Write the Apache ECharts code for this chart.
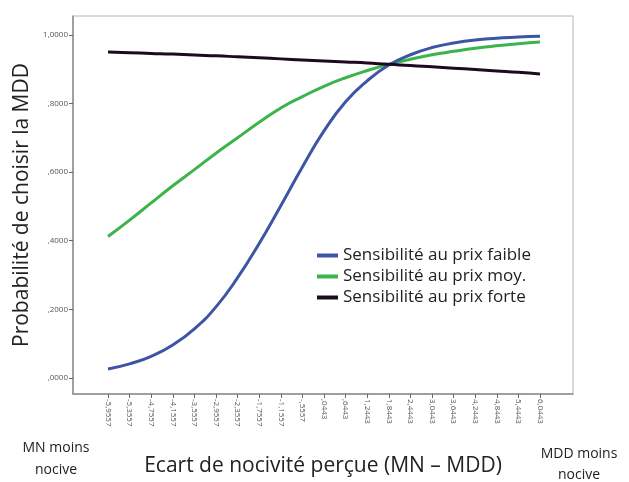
<!DOCTYPE html>
<html>
<head>
<meta charset="utf-8">
<script src="https://cdn.jsdelivr.net/npm/echarts@6/dist/echarts.min.js"></script>
<style>
  html, body { margin: 0; padding: 0; background: #fff; }
  #chart { width: 629px; height: 482px; }
</style>
</head>
<body>
<div id="chart"></div>
<script>
// écart de nocivité perçue (MN - MDD)
const ecartValues = [-5.9557, -5.3557, -4.7557, -4.1557, -3.5557, -2.9557, -2.3557, -1.7557, -1.1557, -0.5557,
  0.0443, 0.6443, 1.2443, 1.8443, 2.4443, 3.0443, 3.6443, 4.2443, 4.8443, 5.4443, 6.0443]

// probabilités
const prixFaible = [0.026, 0.041, 0.063, 0.096, 0.143, 0.207, 0.292, 0.392, 0.502, 0.615, 0.720,
  0.805, 0.866, 0.912, 0.942, 0.963, 0.976, 0.985, 0.990, 0.994, 0.996]
const prixMoyen = [0.412, 0.460, 0.510, 0.560, 0.607, 0.655, 0.700, 0.745, 0.787, 0.820, 0.850,
  0.875, 0.896, 0.914, 0.929, 0.942, 0.952, 0.961, 0.968, 0.974, 0.979]
const prixForte = [0.950, 0.948, 0.946, 0.944, 0.941, 0.939, 0.936, 0.933, 0.930, 0.927, 0.924,
  0.921, 0.918, 0.914, 0.911, 0.907, 0.903, 0.899, 0.895, 0.891, 0.886]

const yTicks = [0, 0.2, 0.4, 0.6, 0.8, 1.0]
const seriesNames = ['Sensibilité au prix faible', 'Sensibilité au prix moy.', 'Sensibilité au prix forte']

// format SPSS : virgule décimale, sans zéro initial
const spssFormat = (v, digits) => {
  let s = Math.abs(v).toFixed(digits).replace('.', ',')
  if (s.startsWith('0,')) s = s.slice(1)
  return (v < 0 ? '-' : '') + s
}

const toPairs = (vals) => vals.map((v, i) => [ecartValues[i], v])

const chart = echarts.init(document.getElementById('chart'))

chart.setOption({
  backgroundColor: '#fff',
  animation: false,
  textStyle: { fontFamily: 'Open Sans' },
  grid: {
    left: 73,
    right: 56,
    top: 16,
    bottom: 86,
    show: true,
    borderColor: '#b4b4b4',
    borderWidth: 1
  },
  legend: {
    orient: 'vertical',
    left: 312,
    top: 242,
    itemWidth: 21,
    itemHeight: 4,
    itemGap: 4,
    icon: 'rect',
    textStyle: { color: '#222', fontSize: 17, fontFamily: 'Open Sans' },
    data: seriesNames
  },
  xAxis: {
    type: 'value',
    min: -6.928,
    max: 6.961,
    name: 'Ecart de nocivité perçue (MN – MDD)',
    nameLocation: 'middle',
    nameGap: 62,
    nameTextStyle: { color: '#222', fontSize: 21, fontFamily: 'Open Sans' },
    axisLine: { onZero: false, lineStyle: { color: '#8c8c8c', width: 1.5 } },
    axisTick: {
      customValues: ecartValues,
      length: 4,
      lineStyle: { color: '#666' }
    },
    axisLabel: {
      customValues: ecartValues,
      rotate: -90,
      fontSize: 8,
      color: '#555',
      margin: 5,
      formatter: (v) => spssFormat(v, 4)
    },
    splitLine: { show: false }
  },
  yAxis: {
    type: 'value',
    min: -0.047,
    max: 1.055,
    name: 'Probabilité de choisir la MDD',
    nameLocation: 'middle',
    nameGap: 40,
    nameTextStyle: { color: '#222', fontSize: 21, fontFamily: 'Open Sans' },
    axisLine: { show: true, onZero: false, lineStyle: { color: '#8c8c8c', width: 1.5 } },
    axisTick: {
      show: true,
      customValues: yTicks,
      length: 4,
      lineStyle: { color: '#666' }
    },
    axisLabel: {
      customValues: yTicks,
      fontSize: 8,
      color: '#555',
      margin: 5,
      formatter: (v) => spssFormat(v, 4)
    },
    splitLine: { show: false }
  },
  graphic: [
    {
      type: 'text',
      x: 56,
      y: 437,
      style: {
        text: 'MN moins\nnocive',
        fill: '#222',
        font: '14px "Open Sans"',
        align: 'center',
        lineHeight: 22
      }
    },
    {
      type: 'text',
      x: 579,
      y: 444,
      style: {
        text: 'MDD moins\nnocive',
        fill: '#222',
        font: '14px "Open Sans"',
        align: 'center',
        lineHeight: 21
      }
    }
  ],
  series: [
    {
      name: seriesNames[0],
      type: 'line',
      smooth: true,
      symbol: 'none',
      data: toPairs(prixFaible),
      lineStyle: { color: '#3c55a5', width: 3 },
      itemStyle: { color: '#3c55a5' },
      z: 3
    },
    {
      name: seriesNames[1],
      type: 'line',
      smooth: true,
      symbol: 'none',
      data: toPairs(prixMoyen),
      lineStyle: { color: '#3cb44b', width: 3 },
      itemStyle: { color: '#3cb44b' },
      z: 2
    },
    {
      name: seriesNames[2],
      type: 'line',
      smooth: true,
      symbol: 'none',
      data: toPairs(prixForte),
      lineStyle: { color: '#1c0a1e', width: 3 },
      itemStyle: { color: '#1c0a1e' },
      z: 4
    }
  ]
})
</script>
</body>
</html>
